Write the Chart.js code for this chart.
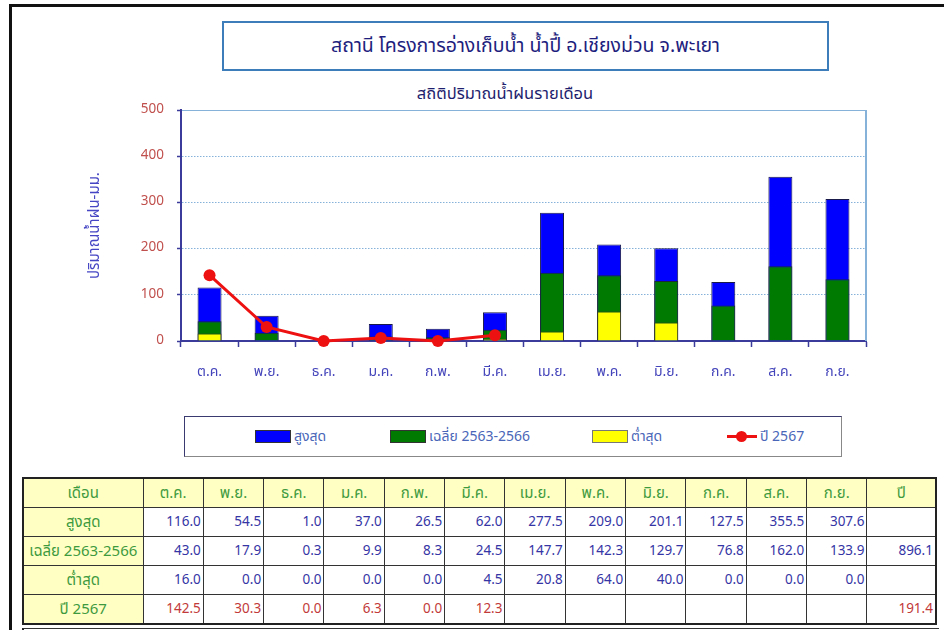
<!DOCTYPE html>
<html>
<head>
<meta charset="utf-8">
<script src="https://cdn.jsdelivr.net/npm/chart.js@4.4.1/dist/chart.umd.min.js"></script>
<style>
  html, body { margin:0; padding:0; background:#fff; }
  body { width:944px; height:630px; position:relative; overflow:hidden;
         font-family: Tahoma, "Leelawadee UI", "Noto Sans Thai", "Noto Sans", sans-serif; }
  #frame { position:absolute; left:9px; top:4px; width:960px; height:660px;
           border-left:3px solid #111; border-top:3px solid #111; }
  #titleBox { position:absolute; left:222px; top:21px; width:603px; height:46px;
              border:2px solid #3C7DBA; display:flex; align-items:center; justify-content:center;
              color:#1E1E7E; font-size:19.5px; }
  #subTitle { position:absolute; left:300px; width:410px; top:81px; text-align:center;
              color:#1E1E6E; font-size:16.5px; font-weight:normal; }
  #chartWrap { position:absolute; left:60px; top:89px; width:830px; height:311px; }
  #legendBox { position:absolute; left:184px; top:416px; width:656px; height:39px;
               border:1px solid #3A3A70; border-right-color:#888; border-bottom-color:#888; }
  .lg { position:absolute; top:0; height:39px; display:flex; align-items:center;
        color:#4A66B8; font-size:14px; white-space:nowrap; }
  .sw { width:34px; height:11px; border:1px solid #333; margin-right:3px; }
  .ln { width:30px; height:11px; position:relative; margin-right:3px; }
  .ln::before { content:""; position:absolute; left:0; right:0; top:4px; height:3px; background:#EE1111; }
  .ln::after { content:""; position:absolute; left:9px; top:0; width:11px; height:11px; border-radius:50%; background:#EE1111; }
  #tbl { position:absolute; left:22px; top:477px; border-collapse:collapse; table-layout:fixed;
         border:2px solid #222; }
  #tbl td { border:1px solid #333; height:28px; padding:0 2px 0 0; font-size:13.5px; text-align:right;
            color:#3535A5; overflow:hidden; white-space:nowrap; }
  #tbl td.h { background:#FFFFC4; text-align:center; color:#3E9A3E; font-size:15px; padding:0; }
  #tbl td.r { color:#C23A3A; }
  #below { position:absolute; left:22px; top:628px; width:915px; height:10px; border-left:2px solid #222; border-top:1px solid #333; }
</style>
</head>
<body>
<div id="frame"></div>
<div id="titleBox">สถานี โครงการอ่างเก็บน้ำ น้ำปี้ อ.เชียงม่วน จ.พะเยา</div>
<div id="subTitle">สถิติปริมาณน้ำฝนรายเดือน</div>
<div id="chartWrap"><canvas id="c" width="830" height="311"></canvas></div>
<div id="legendBox"></div>
<table id="tbl"></table>
<div id="below"></div>
<script>
// ---------- data ----------
const months   = ['ต.ค.','พ.ย.','ธ.ค.','ม.ค.','ก.พ.','มี.ค.','เม.ย.','พ.ค.','มิ.ย.','ก.ค.','ส.ค.','ก.ย.'];
const maxVals  = [116.0, 54.5, 1.0, 37.0, 26.5, 62.0, 277.5, 209.0, 201.1, 127.5, 355.5, 307.6];
const avgVals  = [43.0, 17.9, 0.3, 9.9, 8.3, 24.5, 147.7, 142.3, 129.7, 76.8, 162.0, 133.9];
const minVals  = [16.0, 0.0, 0.0, 0.0, 0.0, 4.5, 20.8, 64.0, 40.0, 0.0, 0.0, 0.0];
const yr2567   = [142.5, 30.3, 0.0, 6.3, 0.0, 12.3, null, null, null, null, null, null];
const yearTotals = { max: '', avg: '896.1', min: '', yr: '191.4' };
const seriesLabels = ['สูงสุด', 'เฉลี่ย 2563-2566', 'ต่ำสุด', 'ปี 2567'];
const yTicks = [0, 100, 200, 300, 400, 500];
const yTitle = 'ปริมาณน้ำฝน-มม.';
const monthHeader = 'เดือน';
const yearHeader = 'ปี';

const FONT = 'Tahoma, "Leelawadee UI", "Noto Sans Thai", "Noto Sans", sans-serif';
const colors = { max:'#0000FF', avg:'#007A00', min:'#FFFF00', yr:'#EE1111' };

const rightBorder = {
  id:'rightBorder',
  afterDatasetsDraw(chart){
    const {ctx, chartArea:a} = chart;
    ctx.save();
    ctx.strokeStyle = '#86B2DA'; ctx.lineWidth = 2;
    ctx.beginPath(); ctx.moveTo(a.right, a.top); ctx.lineTo(a.right, a.bottom); ctx.stroke();
    ctx.restore();
  }
};

new Chart(document.getElementById('c'), {
  type:'bar',
  data:{
    labels: months,
    datasets:[
      { type:'line', label:seriesLabels[3], data:yr2567, borderColor:colors.yr, backgroundColor:colors.yr,
        borderWidth:3, pointRadius:6, pointBorderWidth:0, pointBackgroundColor:colors.yr, order:0, clip:false, spanGaps:false },
      { label:seriesLabels[2], data:minVals, backgroundColor:colors.min, borderColor:'#3A3A2A', borderWidth:1, order:1, grouped:false },
      { label:seriesLabels[1], data:avgVals, backgroundColor:colors.avg, borderColor:'#1A2A3A', borderWidth:1, order:2, grouped:false },
      { label:seriesLabels[0], data:maxVals, backgroundColor:colors.max, borderColor:'#1A1A4A', borderWidth:1, order:3, grouped:false }
    ]
  },
  options:{
    responsive:false, animation:false, devicePixelRatio:1,
    layout:{ padding:{ top:9, right:24, bottom:0, left:0 } },
    datasets:{ bar:{ categoryPercentage:1, barPercentage:0.42 } },
    plugins:{ legend:{ display:false }, tooltip:{ enabled:false } },
    scales:{
      x:{
        offset:true,
        grid:{ drawOnChartArea:false, drawTicks:true, tickLength:6, tickColor:'#3B3B9B', tickWidth:1.5, offset:true },
        border:{ color:'#3B3B9B', width:2 },
        ticks:{ color:'#4444BB', font:{ family:FONT, size:14 }, padding:18, maxRotation:0 },
        afterFit(s){ s.height = 59; }
      },
      y:{
        min:0, max:500,
        afterBuildTicks(s){ s.ticks = yTicks.map(v => ({ value:v })); },
        grid:{ color:'#86B2DA', lineWidth:1, tickLength:4, tickColor:'#3B3B9B', tickWidth:1.5, tickBorderDash:[] },
        border:{ color:'#3B3B9B', width:2, dash(ctx){ return (ctx.tick && ctx.tick.value === 500) ? [] : [1.5,1.5]; } },
        ticks:{ color:'#C0504D', font:{ family:FONT, size:13.5 }, padding:13 },
        title:{ display:true, text:yTitle, color:'#4646C4', font:{ family:FONT, size:15 }, padding:{ top:27, bottom:0 } },
        afterFit(s){ s.width = 121; }
      }
    }
  },
  plugins:[rightBorder]
});

// ---------- legend (HTML) ----------
const lb = document.getElementById('legendBox');
const legendItems = [
  { label:seriesLabels[0], color:colors.max, x:70 },
  { label:seriesLabels[1], color:colors.avg, x:205 },
  { label:seriesLabels[2], color:colors.min, x:407 },
  { label:seriesLabels[3], color:null, x:542 }
];
legendItems.forEach(it => {
  const d = document.createElement('div'); d.className = 'lg'; d.style.left = it.x + 'px';
  const s = document.createElement('div');
  if (it.color) { s.className = 'sw'; s.style.background = it.color; if (it.color === colors.min) s.style.borderColor = '#777'; }
  else s.className = 'ln';
  d.appendChild(s);
  d.appendChild(document.createTextNode(it.label));
  lb.appendChild(d);
});

// ---------- table ----------
const tbl = document.getElementById('tbl');
const cg = document.createElement('colgroup');
[120].concat(months.map(()=>60.33)).concat([69]).forEach(w => { const c = document.createElement('col'); c.style.width = w + 'px'; cg.appendChild(c); });
tbl.appendChild(cg);
function addRow(label, cells, total, cls){
  const tr = document.createElement('tr');
  const th = document.createElement('td'); th.className = 'h'; th.textContent = label; tr.appendChild(th);
  cells.forEach(v => { const td = document.createElement('td'); if (cls) td.className = cls;
    td.textContent = (v === null || v === undefined) ? '' : (typeof v === 'number' ? v.toFixed(1) : v); tr.appendChild(td); });
  const tt = document.createElement('td'); if (cls) tt.className = cls; tt.textContent = total; tr.appendChild(tt);
  tbl.appendChild(tr);
}
(function(){
  const tr = document.createElement('tr');
  [monthHeader].concat(months).concat([yearHeader]).forEach(t => { const td = document.createElement('td'); td.className = 'h'; td.textContent = t; tr.appendChild(td); });
  tbl.appendChild(tr);
})();
addRow(seriesLabels[0], maxVals, yearTotals.max, '');
addRow(seriesLabels[1], avgVals, yearTotals.avg, '');
addRow(seriesLabels[2], minVals, yearTotals.min, '');
addRow(seriesLabels[3], yr2567, yearTotals.yr, 'r');
</script>
</body>
</html>
